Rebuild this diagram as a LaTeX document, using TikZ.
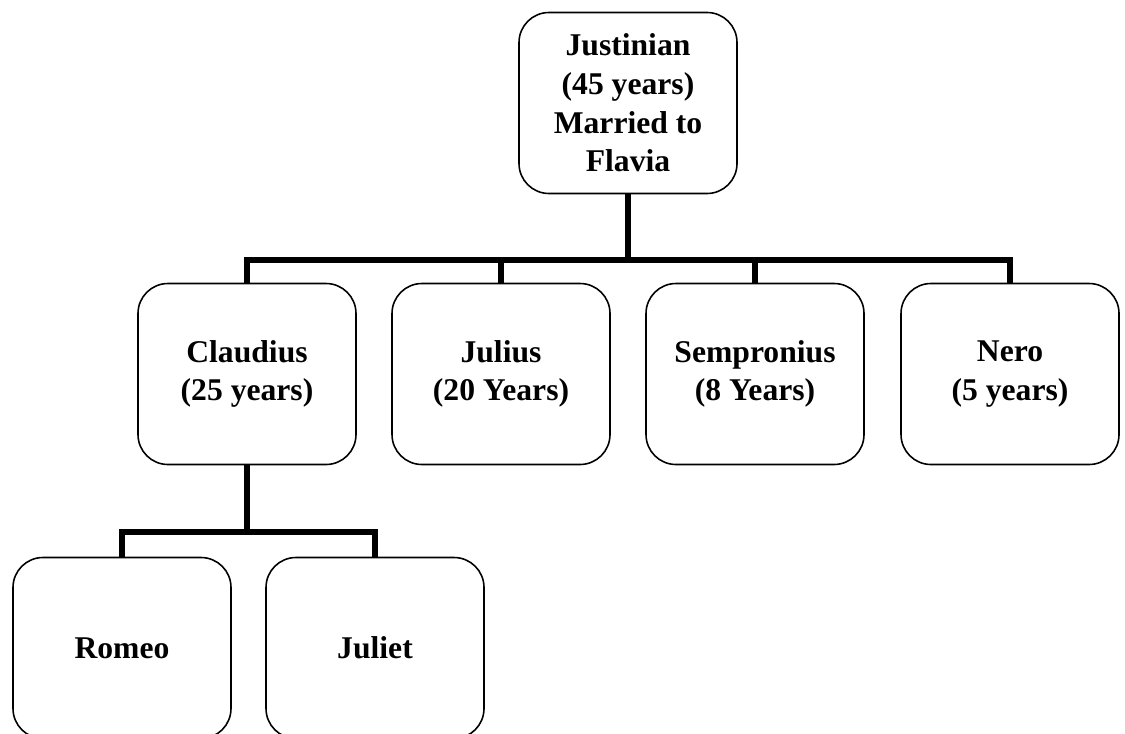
\documentclass[tikz,border=0pt]{standalone}
\usepackage{fontspec}
\setmainfont{Liberation Serif}
\usetikzlibrary{calc, positioning}

\begin{document}
\begin{tikzpicture}

    \tikzstyle{person}=[rectangle, rounded corners=0.6cm, draw=black, line width=0.9pt, minimum width=4.36cm, minimum height=3.62cm, align=center, font=\fontsize{18}{22}\selectfont\bfseries];
    \tikzstyle{link}=[draw=black, line width=3.2pt];

    \useasboundingbox (0, 0) rectangle (22.5, -14.66);

    \node[person] (justinian) at (12.56, -2.06) {Justinian\\(45 years)\\Married to\\Flavia};

    \node[person] (claudius) at (4.94, -7.48) {Claudius\\(25 years)};
    \node[person] (julius) at ($(claudius)+(5.08,0)$) {Julius\\(20 Years)};
    \node[person] (sempronius) at ($(julius)+(5.08,0)$) {Sempronius\\(8 Years)};
    \node[person] (nero) at ($(sempronius)+(5.1,0)$) {Nero\\(5 years)};

    \node[person] (romeo) at ($(claudius)+(-2.5,-5.48)$) {Romeo};
    \node[person] (juliet) at ($(romeo)+(5.06,0)$) {Juliet};

    \coordinate (split) at ($(justinian.south)+(0,-1.31)$);
    \coordinate (split2) at ($(claudius.south)+(0,-1.33)$);

    \draw[link] (justinian.south) -- (split);
    \draw[link] (split) -| (claudius.north);
    \draw[link] (split) -| (julius.north);
    \draw[link] (split) -| (sempronius.north);
    \draw[link] (split) -| (nero.north);

    \draw[link] (claudius.south) -- (split2);
    \draw[link] (split2) -| (romeo.north);
    \draw[link] (split2) -| (juliet.north);

\end{tikzpicture}
\end{document}
